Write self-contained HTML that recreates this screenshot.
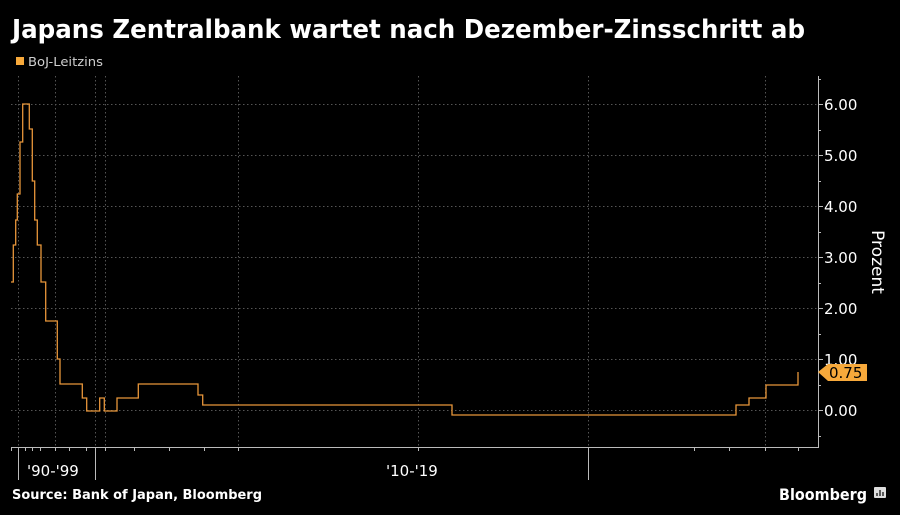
<!DOCTYPE html>
<html><head><meta charset="utf-8"><style>
html,body{margin:0;padding:0;background:#000;}
svg{display:block;}
</style></head><body>
<svg width="900" height="515" viewBox="0 0 900 515" xmlns="http://www.w3.org/2000/svg">
<rect width="900" height="515" fill="#000"/>
<text x="12" y="38" fill="#fff" font-family="DejaVu Sans, Liberation Sans, sans-serif" font-weight="bold" font-size="26" textLength="793" lengthAdjust="spacingAndGlyphs">Japans Zentralbank wartet nach Dezember-Zinsschritt ab</text>
<rect x="16" y="57" width="8" height="8" fill="#f7a93b"/>
<text x="28" y="66" fill="#cfcfcf" font-family="DejaVu Sans, Liberation Sans, sans-serif" font-size="12" textLength="75" lengthAdjust="spacingAndGlyphs">BoJ-Leitzins</text>
<g stroke="#555" stroke-width="1" stroke-dasharray="1.5,2.5">
<line x1="11" x2="818" y1="104.5" y2="104.5"/>
<line x1="11" x2="818" y1="155.5" y2="155.5"/>
<line x1="11" x2="818" y1="206.5" y2="206.5"/>
<line x1="11" x2="818" y1="257.5" y2="257.5"/>
<line x1="11" x2="818" y1="308.5" y2="308.5"/>
<line x1="11" x2="818" y1="359.5" y2="359.5"/>
<line x1="11" x2="818" y1="410.5" y2="410.5"/>
<line x1="18.5" x2="18.5" y1="76" y2="447"/>
<line x1="55.5" x2="55.5" y1="76" y2="447"/>
<line x1="95.5" x2="95.5" y1="76" y2="447"/>
<line x1="105.5" x2="105.5" y1="76" y2="447"/>
<line x1="238.5" x2="238.5" y1="76" y2="447"/>
<line x1="418.5" x2="418.5" y1="76" y2="447"/>
<line x1="588.5" x2="588.5" y1="76" y2="447"/>
<line x1="765.5" x2="765.5" y1="76" y2="447"/>
</g>
<g stroke="#bbb" stroke-width="1">
<line x1="11" x2="819" y1="447.5" y2="447.5"/>
<line x1="818.5" x2="818.5" y1="76" y2="448"/>
<line x1="18.5" x2="18.5" y1="447" y2="480"/>
<line x1="95.5" x2="95.5" y1="447" y2="480"/>
<line x1="588.5" x2="588.5" y1="447" y2="480"/>
<g>
<line x1="11.5" x2="11.5" y1="447" y2="451"/><line x1="25.5" x2="25.5" y1="447" y2="451"/><line x1="32.5" x2="32.5" y1="447" y2="451"/><line x1="40.5" x2="40.5" y1="447" y2="451"/><line x1="55.5" x2="55.5" y1="447" y2="451"/><line x1="69.5" x2="69.5" y1="447" y2="451"/><line x1="86.5" x2="86.5" y1="447" y2="451"/><line x1="105.5" x2="105.5" y1="447" y2="451"/><line x1="134.5" x2="134.5" y1="447" y2="451"/><line x1="169.5" x2="169.5" y1="447" y2="451"/><line x1="204.5" x2="204.5" y1="447" y2="451"/><line x1="238.5" x2="238.5" y1="447" y2="451"/><line x1="418.5" x2="418.5" y1="447" y2="451"/><line x1="694.5" x2="694.5" y1="447" y2="451"/><line x1="729.5" x2="729.5" y1="447" y2="451"/><line x1="765.5" x2="765.5" y1="447" y2="451"/><line x1="798.5" x2="798.5" y1="447" y2="451"/>
</g>
<line x1="818" x2="823" y1="104.5" y2="104.5"/><line x1="818" x2="823" y1="155.5" y2="155.5"/><line x1="818" x2="823" y1="206.5" y2="206.5"/><line x1="818" x2="823" y1="257.5" y2="257.5"/><line x1="818" x2="823" y1="308.5" y2="308.5"/><line x1="818" x2="823" y1="359.5" y2="359.5"/><line x1="818" x2="823" y1="410.5" y2="410.5"/>
<line x1="818" x2="821" y1="79.5" y2="79.5"/><line x1="818" x2="821" y1="130.5" y2="130.5"/><line x1="818" x2="821" y1="181.5" y2="181.5"/><line x1="818" x2="821" y1="232.5" y2="232.5"/><line x1="818" x2="821" y1="283.5" y2="283.5"/><line x1="818" x2="821" y1="334.5" y2="334.5"/><line x1="818" x2="821" y1="385.5" y2="385.5"/><line x1="818" x2="821" y1="436.5" y2="436.5"/>
</g>
<g fill="#fff" font-family="DejaVu Sans, Liberation Sans, sans-serif" font-size="15">
<text x="824" y="110">6.00</text><text x="824" y="161">5.00</text><text x="824" y="212">4.00</text><text x="824" y="263">3.00</text><text x="824" y="314">2.00</text><text x="824" y="365">1.00</text><text x="824" y="416">0.00</text>
<text x="27" y="476">'90-'99</text><text x="386" y="476">'10-'19</text>
<text transform="translate(872,262) rotate(90)" text-anchor="middle" font-size="17">Prozent</text>
</g>
<polyline fill="none" stroke="#e8963a" stroke-width="1.3" points="
11,282 13.3,282 13.3,245 15.7,245 15.7,220 17.3,220 17.3,194 20,194 20,142 22.7,142 22.7,104 29.3,104 29.3,129 32.3,129 32.3,181 34.7,181 34.7,220 37.3,220 37.3,245 41,245 41,282 45.7,282 45.7,321 57.3,321 57.3,359 60,359 60,384 82.3,384 82.3,398 86.7,398 86.7,411 99.7,411 99.7,398 104.3,398 104.3,411 117,411 117,398 138.3,398 138.3,384 198,384 198,395 202.7,395 202.7,405 452,405 452,415 736,415 736,405 749,405 749,398 766,398 766,385 798,385 798,372"/>
<path d="M818,372 L828,364 L867,364 L867,381 L828,381 Z" fill="#f7a93b"/>
<text x="829" y="378" fill="#000" font-family="DejaVu Sans, Liberation Sans, sans-serif" font-size="15">0.75</text>
<text x="12" y="499" fill="#fff" font-family="DejaVu Sans, Liberation Sans, sans-serif" font-weight="bold" font-size="13" textLength="250" lengthAdjust="spacingAndGlyphs">Source: Bank of Japan, Bloomberg</text>
<text x="779" y="500" fill="#fff" font-family="DejaVu Sans, Liberation Sans, sans-serif" font-weight="bold" font-size="16" textLength="88" lengthAdjust="spacingAndGlyphs">Bloomberg</text>
<rect x="874" y="487" width="12" height="11" rx="1" fill="#ddd"/>
<g stroke="#000" stroke-width="1.2"><line x1="877" x2="877" y1="493" y2="496"/><line x1="880" x2="880" y1="490" y2="496"/><line x1="883" x2="883" y1="492" y2="496"/></g>
</svg>
</body></html>
